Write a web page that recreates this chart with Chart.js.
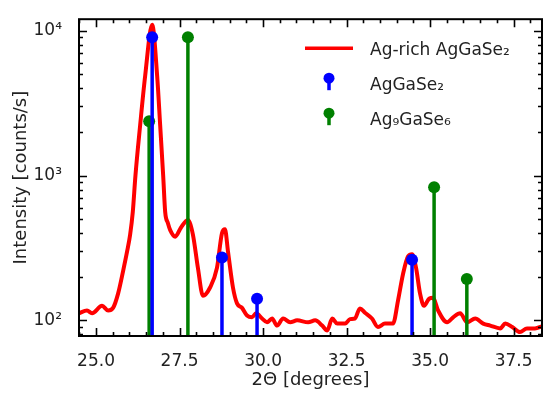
<!DOCTYPE html>
<html>
<head>
<meta charset="utf-8">
<script src="https://cdn.jsdelivr.net/npm/chart.js@4/dist/chart.umd.min.js"></script>
<style>
    html, body { margin: 0; padding: 0; background: #fff; }
    #wrap { width: 543px; height: 394px; }
</style>
</head>
<body>
<div id="wrap"><canvas id="xrdChart"></canvas></div>
<script>
// measured scan (2-theta in degrees, intensity in counts/s)
const scanAngle = [
    24.49, 24.73, 24.88, 25.18, 25.36, 25.51, 25.66, 25.81, 25.93, 26.02,
    26.10, 26.18, 26.32, 26.47, 26.68, 26.83, 26.92, 27.01, 27.07, 27.15,
    27.22, 27.37, 27.54, 27.75, 27.90, 28.05, 28.20, 28.41, 28.62, 28.77,
    28.86, 28.95, 29.10, 29.22, 29.37, 29.52, 29.67, 29.79, 29.97, 30.12,
    30.27, 30.42, 30.60, 30.81, 31.02, 31.35, 31.56, 31.77, 31.92, 32.07,
    32.22, 32.46, 32.60, 32.75, 32.90, 33.05, 33.26, 33.44, 33.65, 33.89,
    34.04, 34.19, 34.34, 34.46, 34.58, 34.70, 34.82, 34.97, 35.09, 35.24,
    35.51, 35.69, 35.90, 36.11, 36.35, 36.59, 36.80, 37.10, 37.25, 37.46,
    37.69, 37.90, 38.14, 38.35
];
const scanCounts = [
    112, 117, 112, 126, 117, 122, 153, 219, 299, 390,
    560, 1000, 2220, 4860, 11000, 4860, 2220, 1000, 560, 470,
    420, 378, 436, 494, 391, 230, 148, 168, 230, 400,
    425, 299, 168, 131, 122, 108, 105, 112, 103, 97,
    103, 92, 103, 97, 100, 97, 100, 92, 85, 103,
    95, 95, 102, 103, 121, 113, 103, 90, 95, 95,
    137, 209, 277, 286, 230, 153, 126, 141, 143, 117,
    97, 105, 112, 97, 103, 95, 92, 88, 95, 90,
    83, 88, 88, 91
];

// reference reflections
const agGaSe2Angle = [26.68, 28.77, 29.82, 34.46];
const agGaSe2Height = [9000, 272, 141, 262];
const ag9GaSe6Angle = [26.59, 27.75, 35.12, 36.10];
const ag9GaSe6Height = [2370, 9000, 830, 193];

const xMin = 24.49, xMax = 38.35;
const yMin = 78, yMax = 12000;
const stemBase = 1;

const sup = { 2: '\u00b2', 3: '\u00b3', 4: '\u2074' };

function stemPoints(xs, ys) {
    const pts = [];
    xs.forEach((x, i) => {
        pts.push({ x: x, y: stemBase });
        pts.push({ x: x, y: ys[i] });
        pts.push({ x: x, y: null });
    });
    return pts;
}

const isMultiple = (v, step) => Math.abs(v / step - Math.round(v / step)) < 1e-6;

// inward ticks on all four sides + frame
const frameTicks = {
    id: 'frameTicks',
    afterDatasetsDraw(chart) {
        const { ctx, chartArea: a, scales: { x, y } } = chart;
        ctx.save();
        ctx.strokeStyle = '#000';
        ctx.lineWidth = 1.6;
        ctx.beginPath();
        const start = Math.ceil(x.min / 0.5);
        for (let i = start; i * 0.5 <= x.max; i++) {
            const v = i * 0.5;
            const px = Math.round(x.getPixelForValue(v)) + 0.5;
            const len = isMultiple(v, 2.5) ? 8 : 4;
            ctx.moveTo(px, a.bottom); ctx.lineTo(px, a.bottom - len);
            ctx.moveTo(px, a.top); ctx.lineTo(px, a.top + len);
        }
        for (let d = 1; d <= 4; d++) {
            for (let k = 1; k <= 9; k++) {
                const v = k * Math.pow(10, d);
                if (v < y.min || v > y.max) continue;
                const py = Math.round(y.getPixelForValue(v)) + 0.5;
                const len = k === 1 ? 8 : 4;
                ctx.moveTo(a.left, py); ctx.lineTo(a.left + len, py);
                ctx.moveTo(a.right, py); ctx.lineTo(a.right - len, py);
            }
        }
        ctx.stroke();
        ctx.lineWidth = 2;
        ctx.strokeRect(a.left, a.top, a.right - a.left, a.bottom - a.top);
        ctx.restore();
    }
};

// legend in the upper right of the plot
const stemLegend = {
    id: 'stemLegend',
    afterDraw(chart) {
        const { ctx, chartArea: a } = chart;
        const sets = chart.data.datasets;
        const order = [2, 0, 1];
        const iconX = a.right - 213;
        const textX = a.right - 172;
        ctx.save();
        ctx.font = '17px "DejaVu Sans"';
        ctx.textBaseline = 'middle';
        order.forEach((idx, row) => {
            const ds = sets[idx];
            const cy = a.top + 31 + row * 35;
            ctx.strokeStyle = ds.borderColor;
            ctx.fillStyle = ds.borderColor;
            ctx.lineWidth = 3.5;
            ctx.beginPath();
            if (ds.isStem) {
                ctx.moveTo(iconX, cy - 7);
                ctx.lineTo(iconX, cy + 5);
                ctx.stroke();
                ctx.beginPath();
                ctx.arc(iconX, cy - 7, 5.5, 0, Math.PI * 2);
                ctx.fill();
            } else {
                ctx.moveTo(iconX - 24, cy - 2);
                ctx.lineTo(iconX + 24, cy - 2);
                ctx.stroke();
            }
            ctx.fillStyle = '#222';
            ctx.fillText(ds.label, textX, cy);
        });
        ctx.restore();
    }
};

Chart.defaults.font.family = '"DejaVu Sans", sans-serif';
Chart.defaults.color = '#222';

const stemRadius = c => (c.raw && c.raw.y !== null && c.raw.y !== stemBase) ? 6 : 0;

new Chart(document.getElementById('xrdChart'), {
    type: 'line',
    data: {
        datasets: [
            {
                label: 'AgGaSe\u2082',
                isStem: true,
                data: stemPoints(agGaSe2Angle, agGaSe2Height),
                borderColor: '#0000ff',
                backgroundColor: '#0000ff',
                borderWidth: 3.5,
                pointRadius: stemRadius,
                pointBorderWidth: 0,
                spanGaps: false,
                tension: 0
            },
            {
                label: 'Ag\u2089GaSe\u2086',
                isStem: true,
                data: stemPoints(ag9GaSe6Angle, ag9GaSe6Height),
                borderColor: '#008000',
                backgroundColor: '#008000',
                borderWidth: 3.5,
                pointRadius: stemRadius,
                pointBorderWidth: 0,
                spanGaps: false,
                tension: 0
            },
            {
                label: 'Ag-rich AgGaSe\u2082',
                data: scanAngle.map((a, i) => ({ x: a, y: scanCounts[i] })),
                borderColor: '#ff0000',
                borderWidth: 4,
                pointRadius: 0,
                cubicInterpolationMode: 'monotone'
            }
        ]
    },
    options: {
        responsive: true,
        maintainAspectRatio: false,
        animation: false,
        events: [],
        layout: { padding: { top: 14, right: 1, left: 0, bottom: 0 } },
        plugins: {
            legend: { display: false },
            tooltip: { enabled: false }
        },
        scales: {
            x: {
                type: 'linear',
                min: xMin,
                max: xMax,
                grid: { display: false },
                border: { display: false },
                ticks: {
                    stepSize: 2.5,
                    includeBounds: false,
                    autoSkip: false,
                    maxRotation: 0,
                    padding: 7,
                    font: { size: 17 },
                    callback: v => isMultiple(v, 2.5) ? v.toFixed(1) : ''
                },
                title: {
                    display: true,
                    text: '2\u0398 [degrees]',
                    font: { size: 18 },
                    padding: { top: 0, bottom: 3 }
                },
                afterFit: s => { s.height = 58; }
            },
            y: {
                type: 'logarithmic',
                min: yMin,
                max: yMax,
                grid: { display: false },
                border: { display: false },
                ticks: {
                    autoSkip: false,
                    padding: 9,
                    font: { size: 17 },
                    callback: v => {
                        const e = Math.log10(v);
                        return isMultiple(e, 1) ? '10' + sup[Math.round(e)] : '';
                    }
                },
                title: {
                    display: true,
                    text: 'Intensity [counts/s]',
                    font: { size: 18 },
                    padding: { top: 11, bottom: 0 }
                },
                afterFit: s => { s.width = 79; }
            }
        }
    },
    plugins: [frameTicks, stemLegend]
});
</script>
</body>
</html>
